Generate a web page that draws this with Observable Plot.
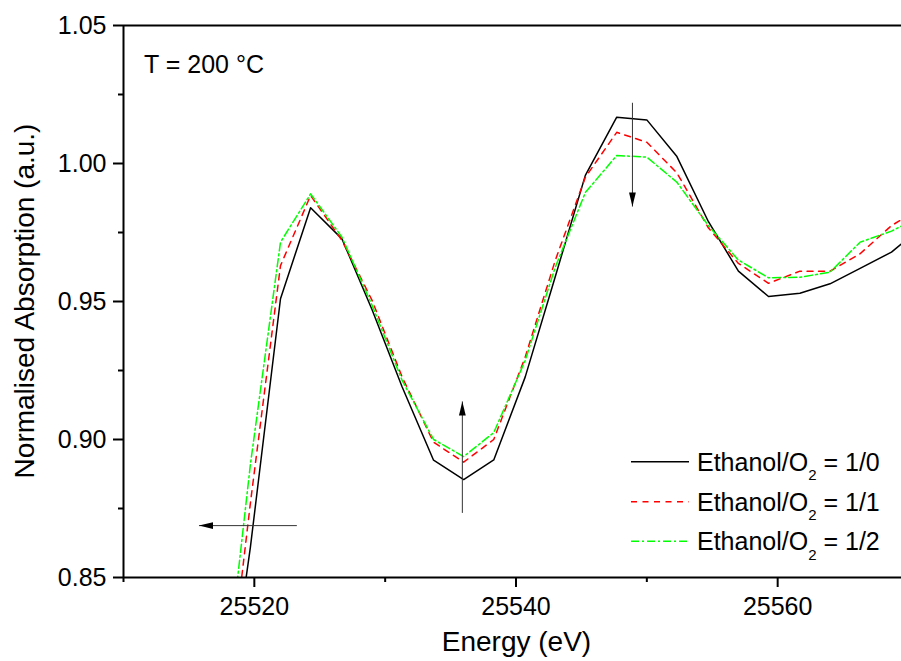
<!DOCTYPE html>
<html><head><meta charset="utf-8">
<script src="https://cdn.jsdelivr.net/npm/d3@7"></script>
<script src="https://cdn.jsdelivr.net/npm/@observablehq/plot@0.6"></script>
<style>
html,body{margin:0;padding:0;background:#fff;overflow:hidden;}
#chart{position:relative;width:901px;height:661px;overflow:hidden;}
#chart svg{max-width:none !important;}
</style></head><body><div id="chart"></div>
<script>
const energy = [25517.3, 25519.7, 25522.0, 25524.3, 25526.7, 25529.0, 25531.3, 25533.7, 25536.0, 25538.3, 25540.7, 25543.0, 25545.3, 25547.7, 25550.0, 25552.3, 25554.7, 25557.0, 25559.3, 25561.7, 25564.0, 25566.3, 25568.7, 25571.0];
const ratio10 = [0.780, 0.861, 0.951, 0.984, 0.9727, 0.947, 0.919, 0.8925, 0.8855, 0.8926, 0.9226, 0.959, 0.9957, 1.0168, 1.0158, 1.0025, 0.979, 0.961, 0.9518, 0.953, 0.9564, 0.962, 0.9679, 0.977];
const ratio11 = [0.780, 0.877, 0.963, 0.9884, 0.9721, 0.9504, 0.9226, 0.899, 0.8918, 0.900, 0.9298, 0.9649, 0.995, 1.0113, 1.0077, 0.9966, 0.9767, 0.9638, 0.9566, 0.961, 0.961, 0.9673, 0.9775, 0.984];
const ratio12 = [0.790, 0.891, 0.9715, 0.989, 0.9733, 0.9486, 0.9214, 0.900, 0.8938, 0.9025, 0.9286, 0.9624, 0.9895, 1.0029, 1.0023, 0.9932, 0.9775, 0.965, 0.9586, 0.9588, 0.9606, 0.9715, 0.9755, 0.981];
const seriesLabels = ["1/0", "1/1", "1/2"];
const seriesColors = ["#000000", "#ff0000", "#00ff00"];
const seriesDash = [null, "6,5.5", "8,3,2,3"];
const xMajorTicks = [25520, 25540, 25560];
const xMinorTicks = [25510, 25530, 25550, 25570];
const yMajorTicks = [0.85, 0.90, 0.95, 1.00, 1.05];
const yMinorTicks = [0.875, 0.925, 0.975, 1.025];
const arrowX1 = [25548.9, 25535.9, 25523.25];
const arrowY1 = [1.022, 0.8734, 0.8688];
const arrowX2 = [25548.9, 25535.9, 25515.77];
const arrowY2 = [0.9844, 0.9138, 0.8688];
const arrowRot = [180, 0, -90];

const seriesValues = [ratio10, ratio11, ratio12];
const FONT = "'Liberation Sans', Arial, Helvetica, sans-serif";

const arrows = arrowX1.map((x1, i) => ({x1, y1: arrowY1[i], x2: arrowX2[i], y2: arrowY2[i], r: arrowRot[i]}));
const headSymbol = {draw(ctx) { ctx.moveTo(0, 0); ctx.lineTo(3.4, 14); ctx.lineTo(-3.4, 14); ctx.closePath(); }};

const lineMarks = seriesValues.map((vals, s) =>
  Plot.line(energy.map((e, i) => ({e, v: vals[i]})), {
    x: "e", y: "v", stroke: seriesColors[s], strokeWidth: 1.5,
    strokeDasharray: seriesDash[s] || undefined, clip: true
  })
);

const plot = Plot.plot({
  width: 908, height: 661,
  marginLeft: 123, marginRight: 0, marginTop: 25, marginBottom: 84,
  style: {fontFamily: FONT, background: "#fff", overflow: "visible", maxWidth: "none"},
  x: {domain: [25510, 25570]},
  y: {domain: [0.85, 1.05]},
  marks: [
    ...lineMarks,
    Plot.link(arrows, {x1: "x1", y1: "y1", x2: "x2", y2: "y2", stroke: "#333", strokeWidth: 1}),
    Plot.dot(arrows, {x: "x2", y: "y2", symbol: headSymbol, r: 4, fill: "#000", stroke: "none", rotate: "r"}),
    Plot.axisX(xMajorTicks, {tickSize: 10, tickPadding: 10, strokeWidth: 2, fontSize: 25, tickFormat: d => String(d), label: null}),
    Plot.axisX(xMinorTicks, {tickSize: 5, strokeWidth: 2, tickFormat: () => "", label: null}),
    Plot.axisY(yMajorTicks, {tickSize: 10, tickPadding: 7, strokeWidth: 2, fontSize: 25, tickFormat: d3.format(".2f"), label: null}),
    Plot.axisY(yMinorTicks, {tickSize: 5, strokeWidth: 2, tickFormat: () => "", label: null}),
    Plot.ruleX([25510], {stroke: "#000", strokeWidth: 2}),
    Plot.ruleY([0.85, 1.05], {stroke: "#000", strokeWidth: 2})
  ]
});
plot.style.maxWidth = "none";
plot.setAttribute("width", 908);
plot.style.width = "908px";
plot.style.height = "661px";
document.getElementById("chart").appendChild(plot);

const svg = d3.select(plot);
const g = svg.append("g").attr("font-family", FONT).attr("fill", "#000").attr("text-anchor", "start");
g.append("text").attr("x", 144).attr("y", 72.5).attr("font-size", "25px").attr("text-anchor", "start").text("T = 200 °C");
g.append("text").attr("x", 516.5).attr("y", 651).attr("text-anchor", "middle").attr("font-size", "28px").text("Energy (eV)");
g.append("text").attr("transform", "translate(34,301) rotate(-90)").attr("text-anchor", "middle").attr("font-size", "28px").text("Normalised Absorption (a.u.)");

const legRows = [461.7, 501.7, 541.3];
seriesLabels.forEach((lab, i) => {
  g.append("line").attr("x1", 631).attr("x2", 689).attr("y1", legRows[i]).attr("y2", legRows[i])
    .attr("stroke", seriesColors[i]).attr("stroke-width", 1.5).attr("stroke-dasharray", seriesDash[i]);
  const t = g.append("text").attr("x", 697).attr("y", legRows[i] + 8.8).attr("font-size", "25px").attr("text-anchor", "start");
  t.append("tspan").text("Ethanol/O");
  t.append("tspan").attr("dy", 9.5).attr("font-size", "15px").text("2");
  t.append("tspan").attr("dy", -9.5).text(" = " + lab);
});
</script></body></html>
